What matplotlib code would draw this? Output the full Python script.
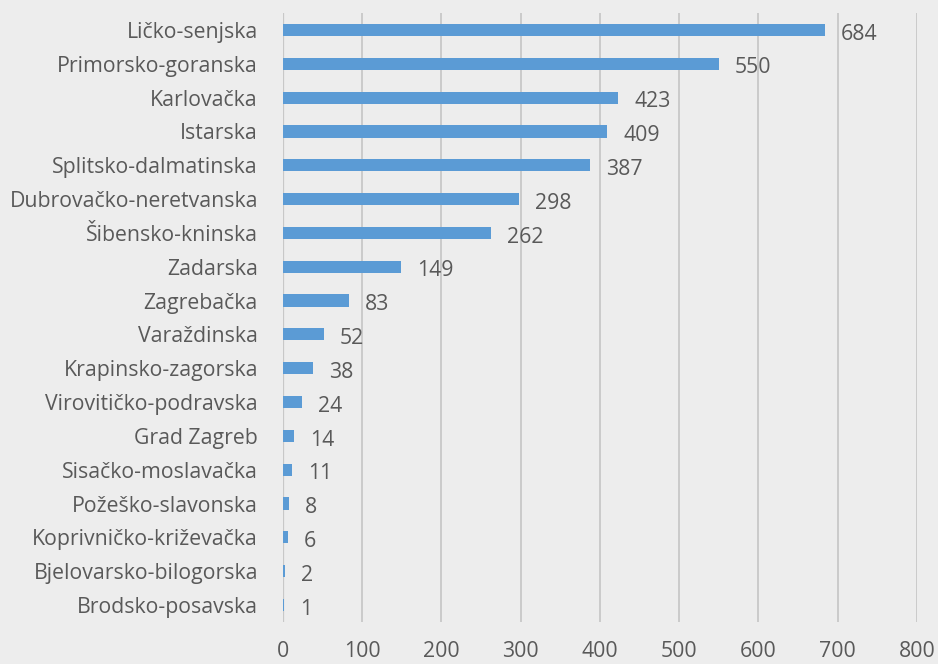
import matplotlib.pyplot as plt

# Counties and their counts, top to bottom as shown
counties = [
    "Ličko-senjska", "Primorsko-goranska", "Karlovačka", "Istarska",
    "Splitsko-dalmatinska", "Dubrovačko-neretvanska", "Šibensko-kninska",
    "Zadarska", "Zagrebačka", "Varaždinska", "Krapinsko-zagorska",
    "Virovitičko-podravska", "Grad Zagreb", "Sisačko-moslavačka",
    "Požeško-slavonska", "Koprivničko-križevačka", "Bjelovarsko-bilogorska",
    "Brodsko-posavska",
]
counts = [684, 550, 423, 409, 387, 298, 262, 149, 83, 52, 38, 24, 14, 11, 8, 6, 2, 1]
x_ticks = [0, 100, 200, 300, 400, 500, 600, 700, 800]

bg = "#ededed"
bar_color = "#5b9bd5"
text_color = "#595959"
grid_color = "#c8c8c8"
fs = 15.3

plt.rcParams['font.family'] = ['Open Sans', 'DejaVu Sans']

fig = plt.figure(figsize=(9.38, 6.64), dpi=100, facecolor=bg)
ax = fig.add_axes([0.3017, 0.0633, 0.6759, 0.9171], facecolor=bg)

pos = list(range(len(counties)))[::-1]
ax.barh(pos, counts, height=0.36, color=bar_color, zorder=3)

# value labels just right of each bar, sitting slightly low
for y, v in zip(pos, counts):
    ax.annotate(str(v), (v, y), xytext=(11.5, -3), textcoords="offset points",
                va="center", ha="left", fontsize=fs, color=text_color)

ax.set_xlim(0, 800)
ax.set_ylim(-0.5, len(counties) - 0.5)
ax.set_xticks(x_ticks)
ax.set_yticks(pos)
ax.set_yticklabels(counties)
ax.tick_params(axis="both", length=0, labelsize=fs, labelcolor=text_color)
ax.tick_params(axis="x", pad=14)
ax.tick_params(axis="y", pad=18)

ax.grid(axis="x", color=grid_color, linewidth=1.3, zorder=0)
for s in ax.spines.values():
    s.set_visible(False)
ax.axvline(0, color=grid_color, linewidth=1.6, zorder=2)

fig.savefig("out.png", dpi=100, facecolor=bg)
